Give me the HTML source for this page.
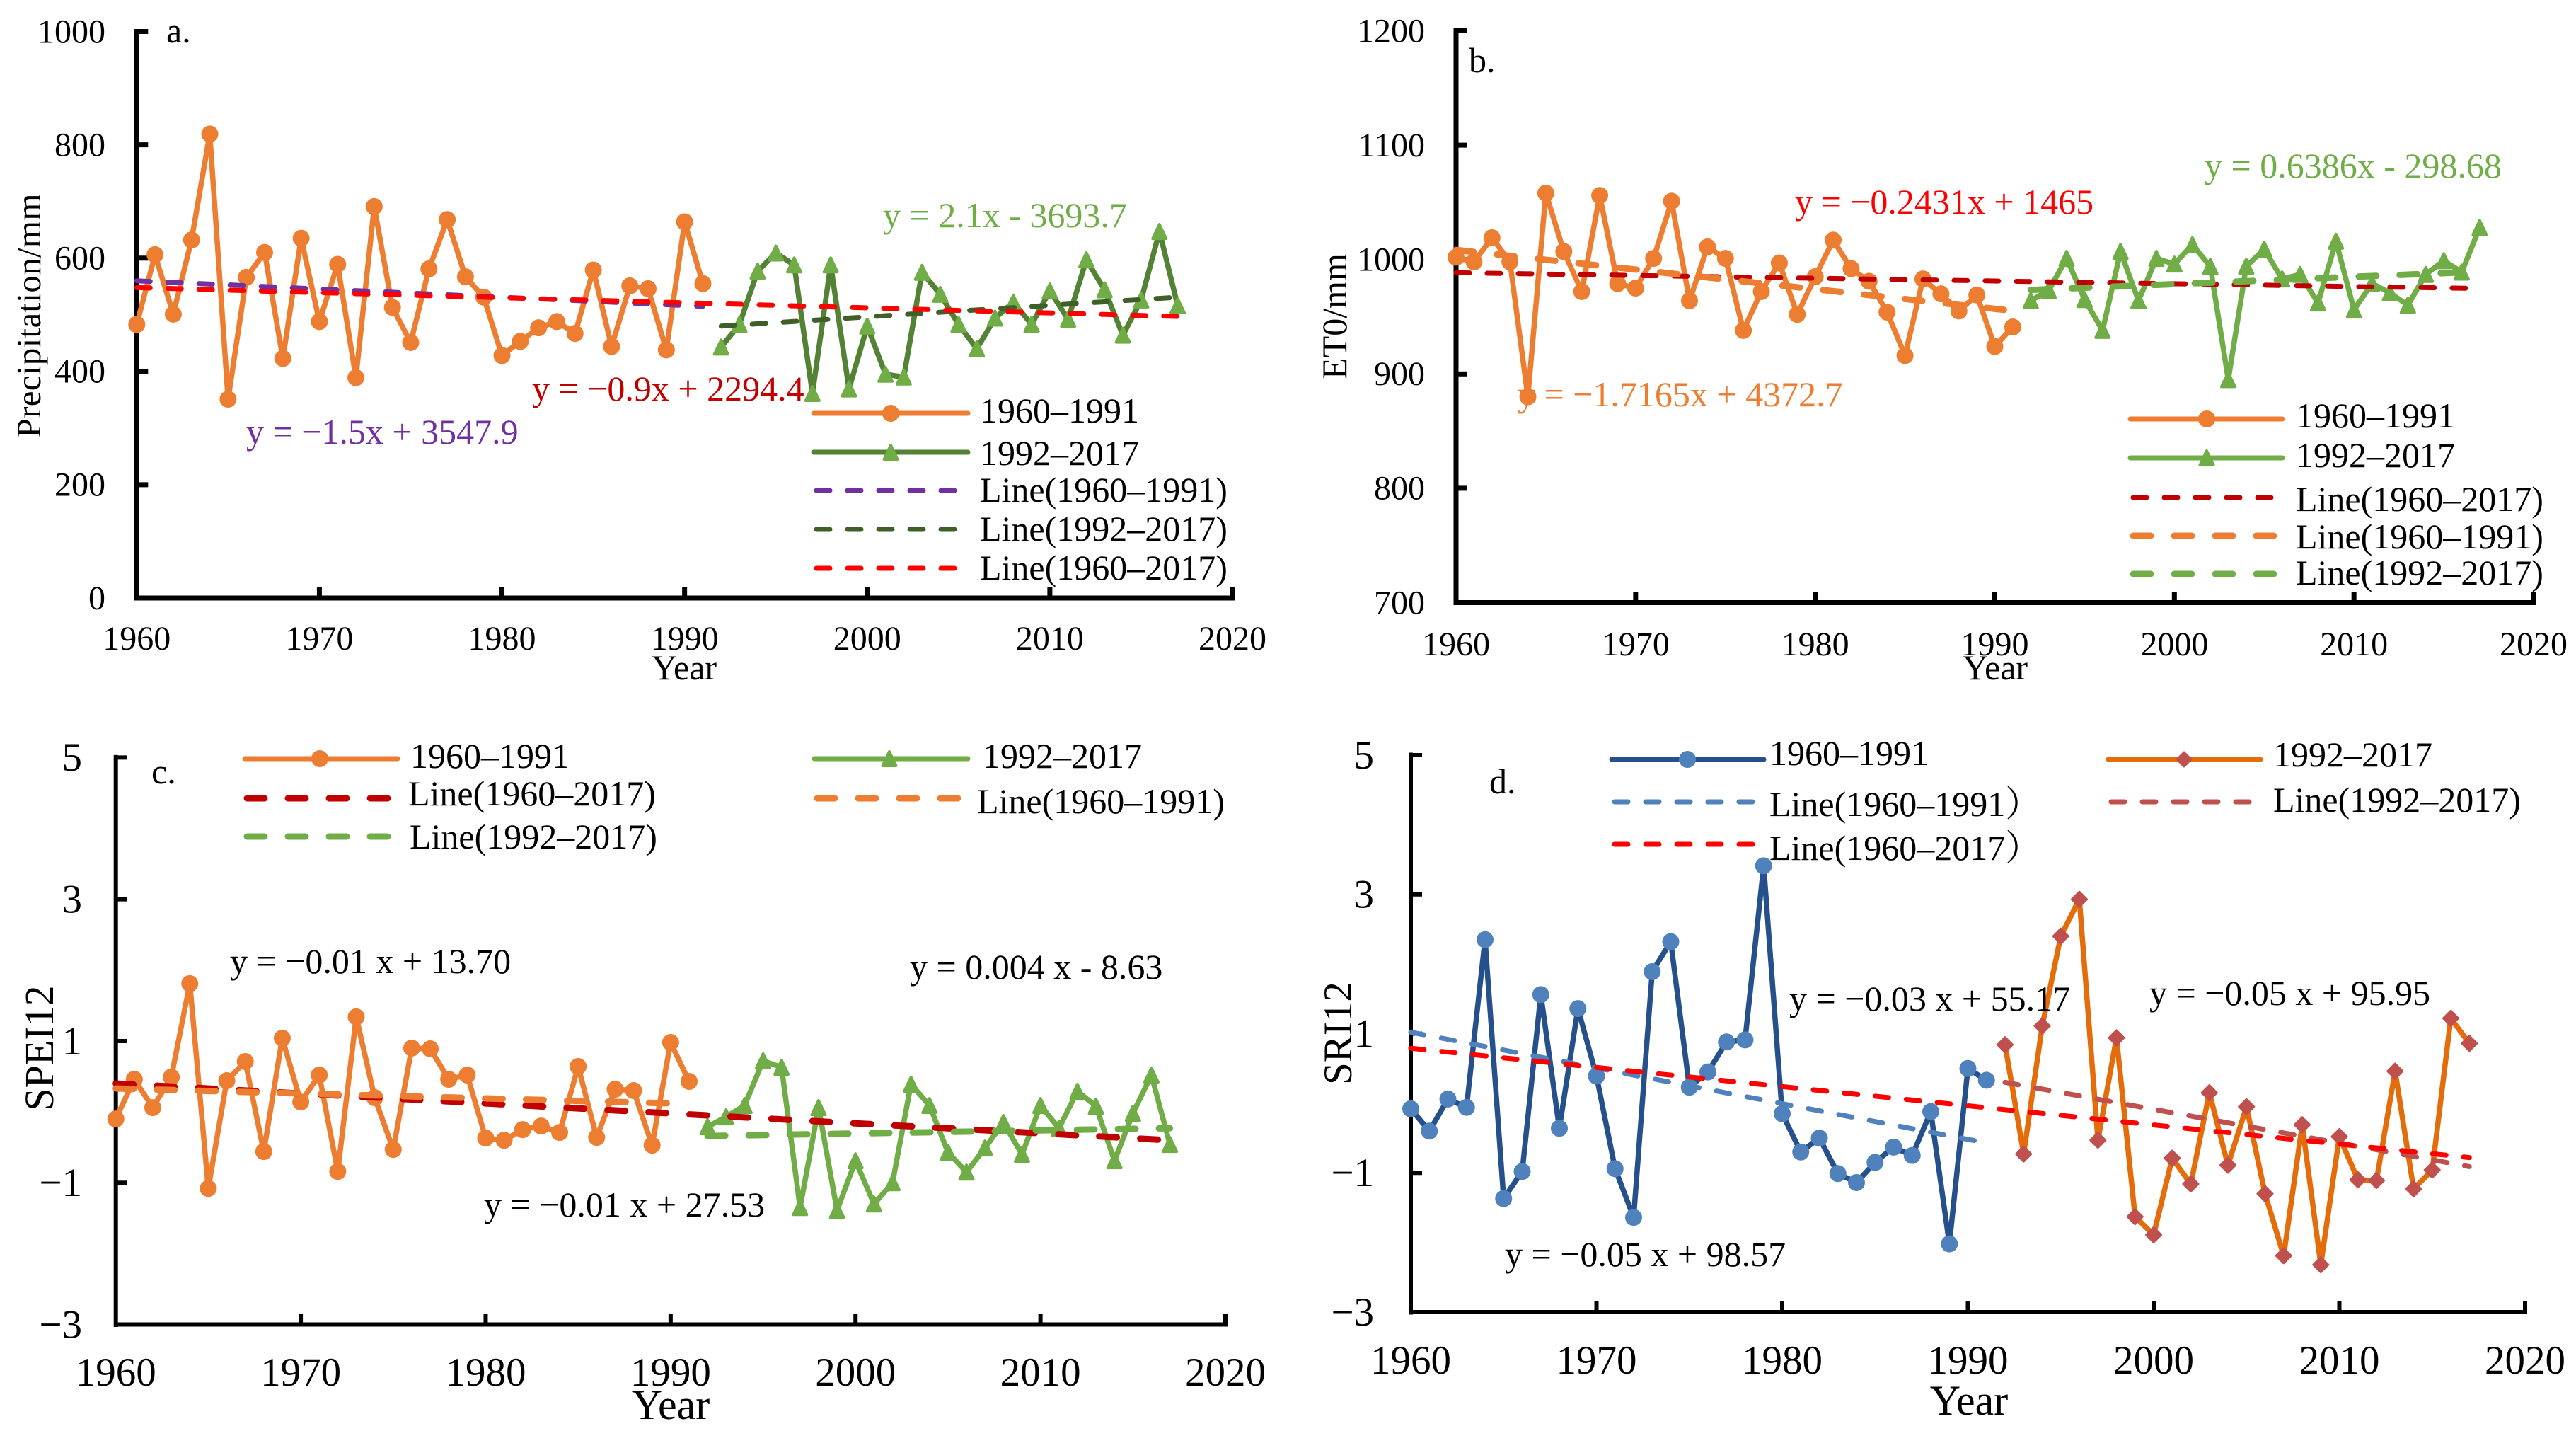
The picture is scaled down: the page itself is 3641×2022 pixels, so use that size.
<!DOCTYPE html>
<html lang="en">
<head>
<meta charset="utf-8">
<title>Precipitation, ET0, SPEI12 and SRI12 trends, 1960–2017</title>
<style>
  html, body { margin: 0; padding: 0; background: #fff; }
  svg { display: block; font-family: "Liberation Serif", "Noto Serif CJK SC", serif; }
  .leg { font-size: 50px; fill: #000; }
  .eq { font-size: 50px; }
  .tag { font-size: 50px; fill: #000; }
</style>
</head>
<body>
<svg id="chart" xmlns="http://www.w3.org/2000/svg" width="3641" height="2022" viewBox="0 0 3641 2022">
  <rect x="0" y="0" width="3641" height="2022" fill="#ffffff"/>

  <g id="panel-a"></g>
  <g id="panel-b"></g>
  <g id="panel-c"></g>
  <g id="panel-d"></g>

  <!-- Panel a annotations -->
  <g>
    <text class="tag" x="235" y="60">a.</text>
    <text font-size="49" text-anchor="middle" transform="translate(57,446) rotate(-90)" textLength="345">Precipitation/mm</text>
    <text font-size="50" text-anchor="middle" x="967" y="960">Year</text>
    <text class="eq" fill="#7030A0" x="348" y="627">y = −1.5x + 3547.9</text>
    <text class="eq" fill="#C00000" x="752" y="566">y = −0.9x + 2294.4</text>
    <text class="eq" fill="#70AD47" x="1248" y="321">y = 2.1x - 3693.7</text>
  </g>
  <g>
    <g>
      <line x1="1150" y1="584" x2="1368" y2="584" stroke="#ED7D31" stroke-width="7" stroke-linecap="round"/>
      <circle cx="1259" cy="584" r="12" fill="#ED7D31"/>
      <text class="leg" x="1385" y="597">1960–1991</text>
    </g>
    <g>
      <line x1="1150" y1="639" x2="1368" y2="639" stroke="#548235" stroke-width="7" stroke-linecap="round"/>
      <polygon points="1259,629 1268.5,649 1249.5,649" fill="#70AD47" stroke="#70AD47" stroke-width="4" stroke-linejoin="round"/>
      <text class="leg" x="1385" y="657">1992–2017</text>
    </g>
    <g>
      <line x1="1154" y1="693" x2="1350" y2="693" stroke="#7030A0" stroke-width="7" stroke-linecap="round" stroke-dasharray="19 25"/>
      <text class="leg" x="1385" y="709">Line(1960–1991)</text>
    </g>
    <g>
      <line x1="1154" y1="748" x2="1350" y2="748" stroke="#3F5F28" stroke-width="7" stroke-linecap="round" stroke-dasharray="19 25"/>
      <text class="leg" x="1385" y="764">Line(1992–2017)</text>
    </g>
    <g>
      <line x1="1154" y1="803" x2="1350" y2="803" stroke="#FF0000" stroke-width="7" stroke-linecap="round" stroke-dasharray="19 25"/>
      <text class="leg" x="1385" y="819">Line(1960–2017)</text>
    </g>
  </g>

  <!-- Panel b annotations -->
  <g>
    <text class="tag" x="2076" y="102">b.</text>
    <text font-size="50" text-anchor="middle" transform="translate(1903,447) rotate(-90)">ET0/mm</text>
    <text font-size="50" text-anchor="middle" x="2820" y="960">Year</text>
    <text class="eq" fill="#FF0000" x="2537" y="302">y = −0.2431x + 1465</text>
    <text class="eq" fill="#70AD47" x="3116" y="251">y = 0.6386x - 298.68</text>
    <text class="eq" fill="#ED7D31" x="2145" y="574">y = −1.7165x + 4372.7</text>
  </g>
  <g>
    <g>
      <line x1="3011" y1="592" x2="3226" y2="592" stroke="#ED7D31" stroke-width="7" stroke-linecap="round"/>
      <circle cx="3119" cy="592" r="12" fill="#ED7D31"/>
      <text class="leg" x="3245" y="604">1960–1991</text>
    </g>
    <g>
      <line x1="3011" y1="647" x2="3226" y2="647" stroke="#70AD47" stroke-width="7" stroke-linecap="round"/>
      <polygon points="3119,637 3128.5,657 3109.5,657" fill="#70AD47" stroke="#70AD47" stroke-width="4" stroke-linejoin="round"/>
      <text class="leg" x="3245" y="660">1992–2017</text>
    </g>
    <g>
      <line x1="3015" y1="703" x2="3212" y2="703" stroke="#C00000" stroke-width="7" stroke-linecap="round" stroke-dasharray="19 25"/>
      <text class="leg" x="3245" y="722">Line(1960–2017)</text>
    </g>
    <g>
      <line x1="3015" y1="757" x2="3218" y2="757" stroke="#ED7D31" stroke-width="9" stroke-linecap="round" stroke-dasharray="25 33"/>
      <text class="leg" x="3245" y="775">Line(1960–1991)</text>
    </g>
    <g>
      <line x1="3015" y1="811" x2="3218" y2="811" stroke="#70AD47" stroke-width="9" stroke-linecap="round" stroke-dasharray="25 33"/>
      <text class="leg" x="3245" y="826">Line(1992–2017)</text>
    </g>
  </g>

  <!-- Panel c annotations -->
  <g>
    <text class="tag" x="214" y="1107">c.</text>
    <text font-size="58" text-anchor="middle" transform="translate(75,1481) rotate(-90)">SPEI12</text>
    <text font-size="60" text-anchor="middle" x="948" y="2005">Year</text>
    <text class="eq" fill="#000" x="325" y="1375">y = −0.01 x + 13.70</text>
    <text class="eq" fill="#000" x="1286" y="1383">y = 0.004 x - 8.63</text>
    <text class="eq" fill="#000" x="684" y="1719">y = −0.01 x + 27.53</text>
  </g>
  <g>
    <g>
      <line x1="346" y1="1072" x2="562" y2="1072" stroke="#ED7D31" stroke-width="7" stroke-linecap="round"/>
      <circle cx="452" cy="1072" r="12" fill="#ED7D31"/>
      <text class="leg" x="580" y="1085">1960–1991</text>
    </g>
    <g>
      <line x1="1151" y1="1072" x2="1368" y2="1072" stroke="#70AD47" stroke-width="7" stroke-linecap="round"/>
      <polygon points="1257,1062 1266.5,1082 1247.5,1082" fill="#70AD47" stroke="#70AD47" stroke-width="4" stroke-linejoin="round"/>
      <text class="leg" x="1389" y="1085">1992–2017</text>
    </g>
    <g>
      <line x1="349" y1="1128" x2="548" y2="1128" stroke="#C00000" stroke-width="9" stroke-linecap="round" stroke-dasharray="25 33"/>
      <text class="leg" x="577" y="1138">Line(1960–2017)</text>
    </g>
    <g>
      <line x1="1155" y1="1128" x2="1356" y2="1128" stroke="#ED7D31" stroke-width="9" stroke-linecap="round" stroke-dasharray="25 33"/>
      <text class="leg" x="1381" y="1149">Line(1960–1991)</text>
    </g>
    <g>
      <line x1="349" y1="1182" x2="548" y2="1182" stroke="#70AD47" stroke-width="9" stroke-linecap="round" stroke-dasharray="25 33"/>
      <text class="leg" x="579" y="1199">Line(1992–2017)</text>
    </g>
  </g>

  <!-- Panel d annotations -->
  <g>
    <text class="tag" x="2105" y="1121">d.</text>
    <text font-size="57" text-anchor="middle" transform="translate(1910,1460) rotate(-90)">SRI12</text>
    <text font-size="60" text-anchor="middle" x="2783" y="1999">Year</text>
    <text class="eq" fill="#000" x="2529" y="1428">y = −0.03 x + 55.17</text>
    <text class="eq" fill="#000" x="3038" y="1420">y = −0.05 x + 95.95</text>
    <text class="eq" fill="#000" x="2127" y="1789">y = −0.05 x + 98.57</text>
  </g>
  <g>
    <g>
      <line x1="2278" y1="1073" x2="2493" y2="1073" stroke="#25508C" stroke-width="7" stroke-linecap="round"/>
      <circle cx="2385" cy="1073" r="12" fill="#4F81BD"/>
      <text class="leg" x="2501" y="1081">1960–1991</text>
    </g>
    <g>
      <line x1="2980" y1="1073" x2="3195" y2="1073" stroke="#E46C0A" stroke-width="7" stroke-linecap="round"/>
      <polygon points="3087,1063 3097,1073 3087,1083 3077,1073" fill="#C0504D" stroke="#C0504D" stroke-width="3" stroke-linejoin="round"/>
      <text class="leg" x="3213" y="1083">1992–2017</text>
    </g>
    <g>
      <line x1="2282" y1="1133" x2="2478" y2="1133" stroke="#4F81BD" stroke-width="7" stroke-linecap="round" stroke-dasharray="19 25"/>
      <text class="leg" x="2501" y="1153">Line(1960–1991）</text>
    </g>
    <g>
      <line x1="2984" y1="1133" x2="3180" y2="1133" stroke="#C0504D" stroke-width="7" stroke-linecap="round" stroke-dasharray="19 25"/>
      <text class="leg" x="3213" y="1147">Line(1992–2017)</text>
    </g>
    <g>
      <line x1="2282" y1="1193" x2="2478" y2="1193" stroke="#FF0000" stroke-width="7" stroke-linecap="round" stroke-dasharray="19 25"/>
      <text class="leg" x="2501" y="1215">Line(1960–2017）</text>
    </g>
  </g>
</svg>

<script>
// ---- Shared categories and axis ticks ----
const yearsEarly = [1960,1961,1962,1963,1964,1965,1966,1967,1968,1969,1970,1971,1972,1973,1974,1975,1976,1977,1978,1979,1980,1981,1982,1983,1984,1985,1986,1987,1988,1989,1990,1991];
const yearsLate = [1992,1993,1994,1995,1996,1997,1998,1999,2000,2001,2002,2003,2004,2005,2006,2007,2008,2009,2010,2011,2012,2013,2014,2015,2016,2017];
const xTickYears = [1960,1970,1980,1990,2000,2010,2020];

// ---- Panel a: precipitation ----
const precipTicks = [0,200,400,600,800,1000];
const precipEarly = [483,606,501,632,819,351,566,610,423,635,488,589,389,691,513,451,581,668,567,531,428,453,477,488,467,579,444,551,546,438,664,555];
const precipLate = [443,483,577,609,588,361,588,369,480,395,390,575,536,483,440,494,522,483,542,492,597,544,464,526,647,516];
const precipTrendEarlyYears = [1960,1991];
const precipTrendEarly = [560,515];
const precipTrendLateYears = [1992,2017];
const precipTrendLate = [480,531];
const precipTrendAllYears = [1960,2017];
const precipTrendAll = [548,497];

// ---- Panel b: ET0 ----
const et0Ticks = [700,800,900,1000,1100,1200];
const et0Early = [1002,998,1019,998,880,1058,1007,972,1056,979,975,1001,1051,964,1011,1001,938,972,997,952,985,1017,992,981,954,916,983,970,955,969,924,941];
const et0Late = [964,973,1001,965,938,1007,964,1001,996,1013,994,895,994,1009,983,987,962,1016,956,979,971,960,987,999,989,1028];
const et0TrendAllYears = [1960,2017];
const et0TrendAll = [988.5,974.7];
const et0TrendEarlyYears = [1960,1991];
const et0TrendEarly = [1008.4,955.2];
const et0TrendLateYears = [1992,2017];
const et0TrendLate = [973.4,989.4];

// ---- Panel c: SPEI12 ----
const speiTicks = [-3,-1,1,3,5];
const speiEarly = [-0.10,0.46,0.06,0.49,1.81,-1.08,0.44,0.71,-0.56,1.04,0.14,0.52,-0.84,1.34,0.20,-0.53,0.90,0.89,0.46,0.52,-0.37,-0.40,-0.25,-0.20,-0.29,0.64,-0.36,0.32,0.30,-0.47,0.98,0.43];
const speiLate = [-0.21,-0.07,0.09,0.72,0.63,-1.35,0.06,-1.39,-0.69,-1.30,-1.00,0.39,0.09,-0.57,-0.85,-0.51,-0.15,-0.60,0.09,-0.23,0.29,0.08,-0.69,-0.02,0.52,-0.46];
const speiTrendAllYears = [1960,2017];
const speiTrendAll = [0.40,-0.40];
const speiTrendEarlyYears = [1960,1990];
const speiTrendEarly = [0.33,0.12];
const speiTrendLateYears = [1992,2017];
const speiTrendLate = [-0.34,-0.23];

// ---- Panel d: SRI12 ----
const sriTicks = [-3,-1,1,3,5];
const sriEarly = [-0.08,-0.40,0.06,-0.06,2.35,-1.37,-0.98,1.56,-0.36,1.36,0.39,-0.94,-1.64,1.89,2.32,0.23,0.45,0.88,0.91,3.41,-0.15,-0.70,-0.50,-1.01,-1.14,-0.85,-0.63,-0.75,-0.12,-2.02,0.50,0.33];
const sriLate = [0.84,-0.73,1.11,2.40,2.93,-0.53,0.94,-1.63,-1.89,-0.79,-1.16,0.15,-0.89,-0.05,-1.30,-2.19,-0.31,-2.32,-0.48,-1.10,-1.11,0.46,-1.23,-0.96,1.22,0.86];
const sriTrendEarlyYears = [1960,1991];
const sriTrendEarly = [1.02,-0.57];
const sriTrendLateYears = [1992,2017];
const sriTrendLate = [0.30,-0.91];
const sriTrendAllYears = [1960,2017];
const sriTrendAll = [0.79,-0.78];

const SVG_NS = 'http://www.w3.org/2000/svg';

function make(parent, tag, props) {
  const node = document.createElementNS(SVG_NS, tag);
  for (const key in props) node.setAttribute(key, props[key]);
  parent.appendChild(node);
  return node;
}

function linearScale(d0, d1, r0, r1) {
  return function (v) { return r0 + (v - d0) * (r1 - r0) / (d1 - d0); };
}

function drawAxes(g, opt, x, y) {
  const yMin = opt.yTicks[0];
  const yMax = opt.yTicks[opt.yTicks.length - 1];

  const yAxis = make(g, 'line', { x1: x(1960), y1: y(yMax) - 3.5, x2: x(1960), y2: y(yMin) + 3.5, stroke: '#000', 'stroke-width': opt.axisWidth });
  
  

  const xAxis = make(g, 'line', { x1: x(1960), y1: y(yMin), x2: x(2020) + 3, y2: y(yMin), stroke: '#000', 'stroke-width': opt.axisWidth });
  
  

  opt.yTicks.forEach(function (v) {
    const tick = make(g, 'line', { x1: x(1960), y1: y(v), x2: x(1960) + 16, y2: y(v), stroke: '#000', 'stroke-width': opt.axisWidth });
    
    

    const label = make(g, 'text', { x: opt.yLabelRight, y: y(v) + opt.fontSize * 0.33, 'text-anchor': 'end', 'font-size': opt.fontSize, fill: '#000' });
    label.textContent = String(v).replace('-', '\u2212');
    
    
  });

  xTickYears.forEach(function (yr) {
    if (yr > 1960) {
      const tick = make(g, 'line', { x1: x(yr), y1: y(yMin), x2: x(yr), y2: y(yMin) - 15, stroke: '#000', 'stroke-width': opt.axisWidth });
      
      
    }
    const label = make(g, 'text', { x: x(yr), y: opt.xLabelBase, 'text-anchor': 'middle', 'font-size': opt.fontSize, fill: '#000' });
    label.textContent = String(yr);
    
    
  });
}

function drawSeries(g, years, values, lineColor, markerColor, shape, x, y) {
  const pts = years.map(function (yr, i) { return x(yr).toFixed(1) + ',' + y(values[i]).toFixed(1); }).join(' ');
  const line = make(g, 'polyline', { points: pts, fill: 'none', stroke: lineColor, 'stroke-width': 7.5, 'stroke-linejoin': 'round' });
  
  

  years.forEach(function (yr, i) {
    const cx = x(yr);
    const cy = y(values[i]);
    let mark;
    if (shape === 'circle') {
      mark = make(g, 'circle', { cx: cx, cy: cy, r: 12, fill: markerColor });
    } else if (shape === 'triangle') {
      mark = make(g, 'polygon', { points: cx + ',' + (cy - 10) + ' ' + (cx + 9.5) + ',' + (cy + 10) + ' ' + (cx - 9.5) + ',' + (cy + 10), fill: markerColor, stroke: markerColor, 'stroke-width': 4, 'stroke-linejoin': 'round' });
    } else {
      mark = make(g, 'polygon', { points: cx + ',' + (cy - 10.5) + ' ' + (cx + 10.5) + ',' + cy + ' ' + cx + ',' + (cy + 10.5) + ' ' + (cx - 10.5) + ',' + cy, fill: markerColor, stroke: markerColor, 'stroke-width': 3, 'stroke-linejoin': 'round' });
    }
    
    
  });
}

function drawTrend(g, years, values, color, width, dash, x, y) {
  const line = make(g, 'line', { x1: x(years[0]), y1: y(values[0]), x2: x(years[1]), y2: y(values[1]), stroke: color, 'stroke-width': width, 'stroke-linecap': 'round', 'stroke-dasharray': dash });
  
  
}

const DASH_SHORT = '19 25';
const DASH_LONG = '25 33';

// Panel a
(function () {
  const g = document.getElementById('panel-a');
  const x = linearScale(1960, 2020, 193.3, 1742);
  const y = linearScale(0, 1000, 845, 44.5);
  drawAxes(g, { yTicks: precipTicks, axisWidth: 7, fontSize: 48, yLabelRight: 149, xLabelBase: 918 }, x, y);
  drawSeries(g, yearsEarly, precipEarly, '#ED7D31', '#ED7D31', 'circle', x, y);
  drawSeries(g, yearsLate, precipLate, '#548235', '#70AD47', 'triangle', x, y);
  drawTrend(g, precipTrendEarlyYears, precipTrendEarly, '#7030A0', 7, DASH_SHORT, x, y);
  drawTrend(g, precipTrendLateYears, precipTrendLate, '#3F5F28', 7, DASH_SHORT, x, y);
  drawTrend(g, precipTrendAllYears, precipTrendAll, '#FF0000', 7, DASH_SHORT, x, y);
})();

// Panel b
(function () {
  const g = document.getElementById('panel-b');
  const x = linearScale(1960, 2020, 2058, 3581);
  const y = linearScale(700, 1200, 851.5, 43.5);
  drawAxes(g, { yTicks: et0Ticks, axisWidth: 7, fontSize: 48, yLabelRight: 2014, xLabelBase: 926 }, x, y);
  drawSeries(g, yearsEarly, et0Early, '#ED7D31', '#ED7D31', 'circle', x, y);
  drawSeries(g, yearsLate, et0Late, '#70AD47', '#70AD47', 'triangle', x, y);
  drawTrend(g, et0TrendAllYears, et0TrendAll, '#C00000', 7, DASH_SHORT, x, y);
  drawTrend(g, et0TrendEarlyYears, et0TrendEarly, '#ED7D31', 9, DASH_LONG, x, y);
  drawTrend(g, et0TrendLateYears, et0TrendLate, '#70AD47', 9, DASH_LONG, x, y);
})();

// Panel c
(function () {
  const g = document.getElementById('panel-c');
  const x = linearScale(1960, 2020, 163.7, 1732);
  const y = linearScale(-3, 5, 1871.5, 1070.4);
  drawAxes(g, { yTicks: speiTicks, axisWidth: 6, fontSize: 57, yLabelRight: 116, xLabelBase: 1958 }, x, y);
  drawSeries(g, yearsEarly, speiEarly, '#ED7D31', '#ED7D31', 'circle', x, y);
  drawSeries(g, yearsLate, speiLate, '#70AD47', '#70AD47', 'triangle', x, y);
  drawTrend(g, speiTrendAllYears, speiTrendAll, '#C00000', 9, DASH_LONG, x, y);
  drawTrend(g, speiTrendEarlyYears, speiTrendEarly, '#ED7D31', 9, DASH_LONG, x, y);
  drawTrend(g, speiTrendLateYears, speiTrendLate, '#70AD47', 9, DASH_LONG, x, y);
})();

// Panel d
(function () {
  const g = document.getElementById('panel-d');
  const x = linearScale(1960, 2020, 1994, 3569);
  const y = linearScale(-3, 5, 1854, 1067);
  drawAxes(g, { yTicks: sriTicks, axisWidth: 6, fontSize: 57, yLabelRight: 1942, xLabelBase: 1941 }, x, y);
  drawSeries(g, yearsEarly, sriEarly, '#25508C', '#4F81BD', 'circle', x, y);
  drawSeries(g, yearsLate, sriLate, '#E46C0A', '#C0504D', 'diamond', x, y);
  drawTrend(g, sriTrendEarlyYears, sriTrendEarly, '#4F81BD', 7, DASH_SHORT, x, y);
  drawTrend(g, sriTrendLateYears, sriTrendLate, '#C0504D', 7, DASH_SHORT, x, y);
  drawTrend(g, sriTrendAllYears, sriTrendAll, '#FF0000', 7, DASH_SHORT, x, y);
})();
</script>
</body>
</html>
